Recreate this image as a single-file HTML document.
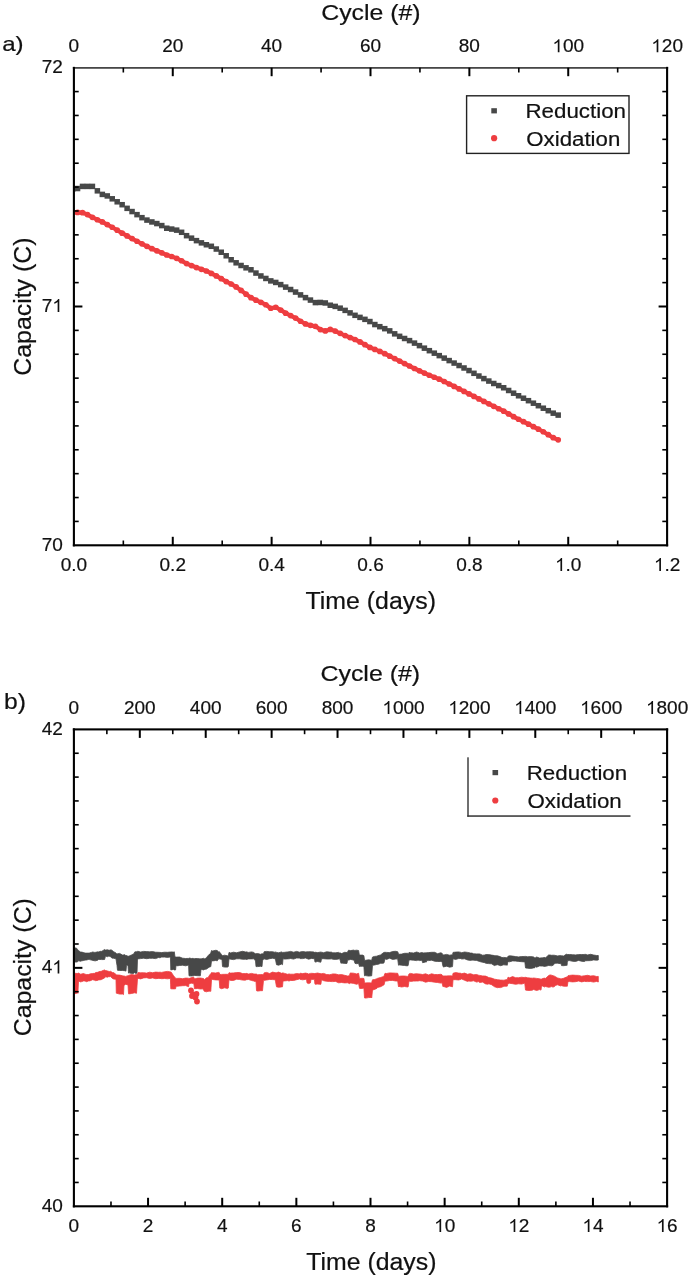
<!DOCTYPE html>
<html><head><meta charset="utf-8"><style>
html,body{margin:0;padding:0;background:#fff;}
svg{display:block;filter:blur(0.45px);}
text{font-family:"Liberation Sans", sans-serif;}
</style></head><body>
<svg width="691" height="1280" viewBox="0 0 691 1280" font-family="Liberation Sans">
<rect width="691" height="1280" fill="#fff"/>
<defs><clipPath id="ca"><rect x="74.40" y="67.70" width="592.20" height="477.60"/></clipPath></defs>
<g clip-path="url(#ca)">
<g fill="#474848">
<rect x="69.85" y="186.35" width="5.5" height="5.5"/>
<rect x="74.80" y="185.78" width="5.5" height="5.5"/>
<rect x="79.76" y="183.65" width="5.5" height="5.5"/>
<rect x="84.71" y="183.65" width="5.5" height="5.5"/>
<rect x="89.67" y="183.65" width="5.5" height="5.5"/>
<rect x="94.62" y="188.08" width="5.5" height="5.5"/>
<rect x="99.58" y="191.66" width="5.5" height="5.5"/>
<rect x="104.53" y="193.19" width="5.5" height="5.5"/>
<rect x="109.49" y="196.06" width="5.5" height="5.5"/>
<rect x="114.44" y="199.05" width="5.5" height="5.5"/>
<rect x="119.40" y="201.96" width="5.5" height="5.5"/>
<rect x="124.35" y="205.59" width="5.5" height="5.5"/>
<rect x="129.31" y="208.81" width="5.5" height="5.5"/>
<rect x="134.26" y="211.89" width="5.5" height="5.5"/>
<rect x="139.22" y="214.92" width="5.5" height="5.5"/>
<rect x="144.18" y="217.34" width="5.5" height="5.5"/>
<rect x="149.13" y="219.20" width="5.5" height="5.5"/>
<rect x="154.08" y="220.82" width="5.5" height="5.5"/>
<rect x="159.04" y="222.84" width="5.5" height="5.5"/>
<rect x="164.00" y="225.49" width="5.5" height="5.5"/>
<rect x="168.95" y="226.33" width="5.5" height="5.5"/>
<rect x="173.91" y="227.39" width="5.5" height="5.5"/>
<rect x="178.86" y="229.54" width="5.5" height="5.5"/>
<rect x="183.81" y="232.93" width="5.5" height="5.5"/>
<rect x="188.77" y="235.41" width="5.5" height="5.5"/>
<rect x="193.72" y="237.89" width="5.5" height="5.5"/>
<rect x="198.68" y="240.11" width="5.5" height="5.5"/>
<rect x="203.63" y="242.00" width="5.5" height="5.5"/>
<rect x="208.59" y="243.54" width="5.5" height="5.5"/>
<rect x="213.54" y="246.29" width="5.5" height="5.5"/>
<rect x="218.50" y="249.48" width="5.5" height="5.5"/>
<rect x="223.45" y="253.03" width="5.5" height="5.5"/>
<rect x="228.41" y="257.00" width="5.5" height="5.5"/>
<rect x="233.37" y="260.06" width="5.5" height="5.5"/>
<rect x="238.32" y="262.74" width="5.5" height="5.5"/>
<rect x="243.28" y="265.08" width="5.5" height="5.5"/>
<rect x="248.23" y="267.04" width="5.5" height="5.5"/>
<rect x="253.19" y="270.32" width="5.5" height="5.5"/>
<rect x="258.14" y="273.22" width="5.5" height="5.5"/>
<rect x="263.10" y="275.71" width="5.5" height="5.5"/>
<rect x="268.05" y="278.15" width="5.5" height="5.5"/>
<rect x="273.00" y="279.69" width="5.5" height="5.5"/>
<rect x="277.96" y="281.85" width="5.5" height="5.5"/>
<rect x="282.91" y="284.36" width="5.5" height="5.5"/>
<rect x="287.87" y="286.76" width="5.5" height="5.5"/>
<rect x="292.82" y="289.32" width="5.5" height="5.5"/>
<rect x="297.78" y="292.14" width="5.5" height="5.5"/>
<rect x="302.74" y="294.88" width="5.5" height="5.5"/>
<rect x="307.69" y="297.32" width="5.5" height="5.5"/>
<rect x="312.64" y="299.84" width="5.5" height="5.5"/>
<rect x="317.60" y="299.70" width="5.5" height="5.5"/>
<rect x="322.56" y="300.22" width="5.5" height="5.5"/>
<rect x="327.51" y="302.48" width="5.5" height="5.5"/>
<rect x="332.47" y="303.65" width="5.5" height="5.5"/>
<rect x="337.42" y="305.42" width="5.5" height="5.5"/>
<rect x="342.38" y="307.63" width="5.5" height="5.5"/>
<rect x="347.33" y="310.14" width="5.5" height="5.5"/>
<rect x="352.28" y="312.57" width="5.5" height="5.5"/>
<rect x="357.24" y="314.62" width="5.5" height="5.5"/>
<rect x="362.20" y="316.60" width="5.5" height="5.5"/>
<rect x="367.15" y="318.80" width="5.5" height="5.5"/>
<rect x="372.11" y="321.80" width="5.5" height="5.5"/>
<rect x="377.06" y="323.93" width="5.5" height="5.5"/>
<rect x="382.01" y="325.92" width="5.5" height="5.5"/>
<rect x="386.97" y="328.12" width="5.5" height="5.5"/>
<rect x="391.92" y="331.09" width="5.5" height="5.5"/>
<rect x="396.88" y="333.58" width="5.5" height="5.5"/>
<rect x="401.84" y="335.74" width="5.5" height="5.5"/>
<rect x="406.79" y="337.87" width="5.5" height="5.5"/>
<rect x="411.75" y="340.35" width="5.5" height="5.5"/>
<rect x="416.70" y="342.88" width="5.5" height="5.5"/>
<rect x="421.65" y="345.41" width="5.5" height="5.5"/>
<rect x="426.61" y="347.93" width="5.5" height="5.5"/>
<rect x="431.57" y="350.41" width="5.5" height="5.5"/>
<rect x="436.52" y="352.88" width="5.5" height="5.5"/>
<rect x="441.48" y="355.36" width="5.5" height="5.5"/>
<rect x="446.43" y="357.84" width="5.5" height="5.5"/>
<rect x="451.38" y="360.32" width="5.5" height="5.5"/>
<rect x="456.34" y="362.78" width="5.5" height="5.5"/>
<rect x="461.29" y="365.23" width="5.5" height="5.5"/>
<rect x="466.25" y="367.80" width="5.5" height="5.5"/>
<rect x="471.21" y="370.55" width="5.5" height="5.5"/>
<rect x="476.16" y="373.29" width="5.5" height="5.5"/>
<rect x="481.12" y="375.83" width="5.5" height="5.5"/>
<rect x="486.07" y="378.31" width="5.5" height="5.5"/>
<rect x="491.02" y="380.74" width="5.5" height="5.5"/>
<rect x="495.98" y="382.84" width="5.5" height="5.5"/>
<rect x="500.93" y="385.02" width="5.5" height="5.5"/>
<rect x="505.89" y="387.73" width="5.5" height="5.5"/>
<rect x="510.85" y="390.44" width="5.5" height="5.5"/>
<rect x="515.80" y="393.02" width="5.5" height="5.5"/>
<rect x="520.75" y="395.47" width="5.5" height="5.5"/>
<rect x="525.71" y="397.93" width="5.5" height="5.5"/>
<rect x="530.66" y="400.44" width="5.5" height="5.5"/>
<rect x="535.62" y="402.96" width="5.5" height="5.5"/>
<rect x="540.58" y="405.46" width="5.5" height="5.5"/>
<rect x="545.53" y="407.94" width="5.5" height="5.5"/>
<rect x="550.49" y="410.42" width="5.5" height="5.5"/>
<rect x="555.44" y="412.35" width="5.5" height="5.5"/>
</g>
<defs><filter id="rb" x="-5%" y="-5%" width="110%" height="110%"><feGaussianBlur stdDeviation="0.45"/></filter></defs>
<g filter="url(#rb)">
<polyline fill="none" stroke="#ee3d40" stroke-width="4.2" stroke-linejoin="round" stroke-linecap="round" points="72.60,212.50 77.55,212.40 82.51,212.65 87.46,214.56 92.42,217.34 97.38,219.73 102.33,221.94 107.28,224.53 112.24,227.23 117.19,230.18 122.15,233.15 127.10,235.94 132.06,238.59 137.01,241.23 141.97,243.86 146.93,246.34 151.88,248.69 156.83,250.79 161.79,252.80 166.75,254.98 171.70,256.50 176.66,258.36 181.61,260.77 186.56,263.62 191.52,265.57 196.47,267.57 201.43,269.34 206.38,270.99 211.34,273.47 216.29,275.95 221.25,278.69 226.20,281.54 231.16,283.98 236.12,286.91 241.07,290.38 246.03,294.13 250.98,297.63 255.94,300.18 260.89,302.36 265.85,304.75 270.80,308.26 275.75,307.23 280.71,310.08 285.66,313.13 290.62,315.61 295.57,318.09 300.53,321.26 305.49,323.95 310.44,325.37 315.39,326.36 320.35,329.60 325.31,330.93 330.26,329.39 335.22,331.07 340.17,333.31 345.12,335.55 350.08,337.53 355.03,339.51 359.99,341.89 364.95,344.63 369.90,347.45 374.86,349.41 379.81,351.38 384.76,353.65 389.72,356.15 394.67,358.59 399.63,361.10 404.59,363.57 409.54,366.02 414.50,368.50 419.45,370.78 424.40,373.05 429.36,375.24 434.32,377.23 439.27,379.21 444.23,381.51 449.18,383.99 454.13,386.47 459.09,388.96 464.04,391.46 469.00,393.95 473.96,396.43 478.91,398.90 483.87,401.38 488.82,403.86 493.77,406.33 498.73,408.73 503.68,411.18 508.64,413.92 513.60,416.67 518.55,419.27 523.50,421.72 528.46,424.18 533.41,426.66 538.37,429.13 543.33,431.74 548.28,434.71 553.24,437.68 558.19,439.85"/>
<g fill="#ee3d40">
<circle cx="72.60" cy="212.50" r="2.85"/>
<circle cx="77.55" cy="212.40" r="2.85"/>
<circle cx="82.51" cy="212.65" r="2.85"/>
<circle cx="87.46" cy="214.56" r="2.85"/>
<circle cx="92.42" cy="217.34" r="2.85"/>
<circle cx="97.38" cy="219.73" r="2.85"/>
<circle cx="102.33" cy="221.94" r="2.85"/>
<circle cx="107.28" cy="224.53" r="2.85"/>
<circle cx="112.24" cy="227.23" r="2.85"/>
<circle cx="117.19" cy="230.18" r="2.85"/>
<circle cx="122.15" cy="233.15" r="2.85"/>
<circle cx="127.10" cy="235.94" r="2.85"/>
<circle cx="132.06" cy="238.59" r="2.85"/>
<circle cx="137.01" cy="241.23" r="2.85"/>
<circle cx="141.97" cy="243.86" r="2.85"/>
<circle cx="146.93" cy="246.34" r="2.85"/>
<circle cx="151.88" cy="248.69" r="2.85"/>
<circle cx="156.83" cy="250.79" r="2.85"/>
<circle cx="161.79" cy="252.80" r="2.85"/>
<circle cx="166.75" cy="254.98" r="2.85"/>
<circle cx="171.70" cy="256.50" r="2.85"/>
<circle cx="176.66" cy="258.36" r="2.85"/>
<circle cx="181.61" cy="260.77" r="2.85"/>
<circle cx="186.56" cy="263.62" r="2.85"/>
<circle cx="191.52" cy="265.57" r="2.85"/>
<circle cx="196.47" cy="267.57" r="2.85"/>
<circle cx="201.43" cy="269.34" r="2.85"/>
<circle cx="206.38" cy="270.99" r="2.85"/>
<circle cx="211.34" cy="273.47" r="2.85"/>
<circle cx="216.29" cy="275.95" r="2.85"/>
<circle cx="221.25" cy="278.69" r="2.85"/>
<circle cx="226.20" cy="281.54" r="2.85"/>
<circle cx="231.16" cy="283.98" r="2.85"/>
<circle cx="236.12" cy="286.91" r="2.85"/>
<circle cx="241.07" cy="290.38" r="2.85"/>
<circle cx="246.03" cy="294.13" r="2.85"/>
<circle cx="250.98" cy="297.63" r="2.85"/>
<circle cx="255.94" cy="300.18" r="2.85"/>
<circle cx="260.89" cy="302.36" r="2.85"/>
<circle cx="265.85" cy="304.75" r="2.85"/>
<circle cx="270.80" cy="308.26" r="2.85"/>
<circle cx="275.75" cy="307.23" r="2.85"/>
<circle cx="280.71" cy="310.08" r="2.85"/>
<circle cx="285.66" cy="313.13" r="2.85"/>
<circle cx="290.62" cy="315.61" r="2.85"/>
<circle cx="295.57" cy="318.09" r="2.85"/>
<circle cx="300.53" cy="321.26" r="2.85"/>
<circle cx="305.49" cy="323.95" r="2.85"/>
<circle cx="310.44" cy="325.37" r="2.85"/>
<circle cx="315.39" cy="326.36" r="2.85"/>
<circle cx="320.35" cy="329.60" r="2.85"/>
<circle cx="325.31" cy="330.93" r="2.85"/>
<circle cx="330.26" cy="329.39" r="2.85"/>
<circle cx="335.22" cy="331.07" r="2.85"/>
<circle cx="340.17" cy="333.31" r="2.85"/>
<circle cx="345.12" cy="335.55" r="2.85"/>
<circle cx="350.08" cy="337.53" r="2.85"/>
<circle cx="355.03" cy="339.51" r="2.85"/>
<circle cx="359.99" cy="341.89" r="2.85"/>
<circle cx="364.95" cy="344.63" r="2.85"/>
<circle cx="369.90" cy="347.45" r="2.85"/>
<circle cx="374.86" cy="349.41" r="2.85"/>
<circle cx="379.81" cy="351.38" r="2.85"/>
<circle cx="384.76" cy="353.65" r="2.85"/>
<circle cx="389.72" cy="356.15" r="2.85"/>
<circle cx="394.67" cy="358.59" r="2.85"/>
<circle cx="399.63" cy="361.10" r="2.85"/>
<circle cx="404.59" cy="363.57" r="2.85"/>
<circle cx="409.54" cy="366.02" r="2.85"/>
<circle cx="414.50" cy="368.50" r="2.85"/>
<circle cx="419.45" cy="370.78" r="2.85"/>
<circle cx="424.40" cy="373.05" r="2.85"/>
<circle cx="429.36" cy="375.24" r="2.85"/>
<circle cx="434.32" cy="377.23" r="2.85"/>
<circle cx="439.27" cy="379.21" r="2.85"/>
<circle cx="444.23" cy="381.51" r="2.85"/>
<circle cx="449.18" cy="383.99" r="2.85"/>
<circle cx="454.13" cy="386.47" r="2.85"/>
<circle cx="459.09" cy="388.96" r="2.85"/>
<circle cx="464.04" cy="391.46" r="2.85"/>
<circle cx="469.00" cy="393.95" r="2.85"/>
<circle cx="473.96" cy="396.43" r="2.85"/>
<circle cx="478.91" cy="398.90" r="2.85"/>
<circle cx="483.87" cy="401.38" r="2.85"/>
<circle cx="488.82" cy="403.86" r="2.85"/>
<circle cx="493.77" cy="406.33" r="2.85"/>
<circle cx="498.73" cy="408.73" r="2.85"/>
<circle cx="503.68" cy="411.18" r="2.85"/>
<circle cx="508.64" cy="413.92" r="2.85"/>
<circle cx="513.60" cy="416.67" r="2.85"/>
<circle cx="518.55" cy="419.27" r="2.85"/>
<circle cx="523.50" cy="421.72" r="2.85"/>
<circle cx="528.46" cy="424.18" r="2.85"/>
<circle cx="533.41" cy="426.66" r="2.85"/>
<circle cx="538.37" cy="429.13" r="2.85"/>
<circle cx="543.33" cy="431.74" r="2.85"/>
<circle cx="548.28" cy="434.71" r="2.85"/>
<circle cx="553.24" cy="437.68" r="2.85"/>
<circle cx="558.19" cy="439.85" r="2.85"/>
</g></g></g>
<rect x="72.85" y="67.10" width="595.30" height="1.6" fill="#333"/>
<rect x="72.85" y="544.25" width="595.30" height="2.1" fill="#000"/>
<rect x="72.85" y="66.85" width="2.1" height="479.50" fill="#000"/>
<rect x="666.05" y="66.85" width="2.1" height="479.50" fill="#000"/>
<rect x="122.53" y="540.50" width="1.6" height="4.80" fill="#000"/>
<rect x="171.77" y="536.80" width="2.0" height="8.50" fill="#000"/>
<rect x="221.40" y="540.50" width="1.6" height="4.80" fill="#000"/>
<rect x="270.63" y="536.80" width="2.0" height="8.50" fill="#000"/>
<rect x="320.27" y="540.50" width="1.6" height="4.80" fill="#000"/>
<rect x="369.50" y="536.80" width="2.0" height="8.50" fill="#000"/>
<rect x="419.13" y="540.50" width="1.6" height="4.80" fill="#000"/>
<rect x="468.37" y="536.80" width="2.0" height="8.50" fill="#000"/>
<rect x="518.00" y="540.50" width="1.6" height="4.80" fill="#000"/>
<rect x="567.23" y="536.80" width="2.0" height="8.50" fill="#000"/>
<rect x="616.87" y="540.50" width="1.6" height="4.80" fill="#000"/>
<rect x="122.53" y="67.70" width="1.6" height="4.80" fill="#000"/>
<rect x="171.77" y="67.70" width="2.0" height="8.50" fill="#000"/>
<rect x="221.40" y="67.70" width="1.6" height="4.80" fill="#000"/>
<rect x="270.63" y="67.70" width="2.0" height="8.50" fill="#000"/>
<rect x="320.27" y="67.70" width="1.6" height="4.80" fill="#000"/>
<rect x="369.50" y="67.70" width="2.0" height="8.50" fill="#000"/>
<rect x="419.13" y="67.70" width="1.6" height="4.80" fill="#000"/>
<rect x="468.37" y="67.70" width="2.0" height="8.50" fill="#000"/>
<rect x="518.00" y="67.70" width="1.6" height="4.80" fill="#000"/>
<rect x="567.23" y="67.70" width="2.0" height="8.50" fill="#000"/>
<rect x="616.87" y="67.70" width="1.6" height="4.80" fill="#000"/>
<rect x="73.90" y="90.78" width="4.80" height="1.6" fill="#000"/>
<rect x="662.30" y="90.78" width="4.80" height="1.6" fill="#000"/>
<rect x="73.90" y="114.66" width="4.80" height="1.6" fill="#000"/>
<rect x="662.30" y="114.66" width="4.80" height="1.6" fill="#000"/>
<rect x="73.90" y="138.54" width="4.80" height="1.6" fill="#000"/>
<rect x="662.30" y="138.54" width="4.80" height="1.6" fill="#000"/>
<rect x="73.90" y="162.42" width="4.80" height="1.6" fill="#000"/>
<rect x="662.30" y="162.42" width="4.80" height="1.6" fill="#000"/>
<rect x="73.90" y="186.30" width="4.80" height="1.6" fill="#000"/>
<rect x="662.30" y="186.30" width="4.80" height="1.6" fill="#000"/>
<rect x="73.90" y="210.18" width="4.80" height="1.6" fill="#000"/>
<rect x="662.30" y="210.18" width="4.80" height="1.6" fill="#000"/>
<rect x="73.90" y="234.06" width="4.80" height="1.6" fill="#000"/>
<rect x="662.30" y="234.06" width="4.80" height="1.6" fill="#000"/>
<rect x="73.90" y="257.94" width="4.80" height="1.6" fill="#000"/>
<rect x="662.30" y="257.94" width="4.80" height="1.6" fill="#000"/>
<rect x="73.90" y="281.82" width="4.80" height="1.6" fill="#000"/>
<rect x="662.30" y="281.82" width="4.80" height="1.6" fill="#000"/>
<rect x="73.90" y="305.50" width="8.50" height="2.0" fill="#000"/>
<rect x="658.60" y="305.50" width="8.50" height="2.0" fill="#000"/>
<rect x="73.90" y="329.58" width="4.80" height="1.6" fill="#000"/>
<rect x="662.30" y="329.58" width="4.80" height="1.6" fill="#000"/>
<rect x="73.90" y="353.46" width="4.80" height="1.6" fill="#000"/>
<rect x="662.30" y="353.46" width="4.80" height="1.6" fill="#000"/>
<rect x="73.90" y="377.34" width="4.80" height="1.6" fill="#000"/>
<rect x="662.30" y="377.34" width="4.80" height="1.6" fill="#000"/>
<rect x="73.90" y="401.22" width="4.80" height="1.6" fill="#000"/>
<rect x="662.30" y="401.22" width="4.80" height="1.6" fill="#000"/>
<rect x="73.90" y="425.10" width="4.80" height="1.6" fill="#000"/>
<rect x="662.30" y="425.10" width="4.80" height="1.6" fill="#000"/>
<rect x="73.90" y="448.98" width="4.80" height="1.6" fill="#000"/>
<rect x="662.30" y="448.98" width="4.80" height="1.6" fill="#000"/>
<rect x="73.90" y="472.86" width="4.80" height="1.6" fill="#000"/>
<rect x="662.30" y="472.86" width="4.80" height="1.6" fill="#000"/>
<rect x="73.90" y="496.74" width="4.80" height="1.6" fill="#000"/>
<rect x="662.30" y="496.74" width="4.80" height="1.6" fill="#000"/>
<rect x="73.90" y="520.62" width="4.80" height="1.6" fill="#000"/>
<rect x="662.30" y="520.62" width="4.80" height="1.6" fill="#000"/>
<g fill="#111" stroke="#111" stroke-width="0.2">
<text x="73.90" y="52.30" font-size="19" text-anchor="middle">0</text>
<text x="172.77" y="52.30" font-size="19" text-anchor="middle">20</text>
<text x="271.63" y="52.30" font-size="19" text-anchor="middle">40</text>
<text x="370.50" y="52.30" font-size="19" text-anchor="middle">60</text>
<text x="469.37" y="52.30" font-size="19" text-anchor="middle">80</text>
<path transform="translate(552.38,52.30) scale(0.00928,-0.00928)" d="M763,0 L583,0 L583,1097 Q518,1038 412,979 Q306,920 222,890 L222,1056 Q373,1124 486,1221 Q599,1318 646,1409 L763,1409 Z"/>
<text x="562.95" y="52.30" font-size="19">00</text>
<path transform="translate(651.25,52.30) scale(0.00928,-0.00928)" d="M763,0 L583,0 L583,1097 Q518,1038 412,979 Q306,920 222,890 L222,1056 Q373,1124 486,1221 Q599,1318 646,1409 L763,1409 Z"/>
<text x="661.82" y="52.30" font-size="19">20</text>
<text x="73.90" y="571.00" font-size="19" text-anchor="middle">0.0</text>
<text x="172.77" y="571.00" font-size="19" text-anchor="middle">0.2</text>
<text x="271.63" y="571.00" font-size="19" text-anchor="middle">0.4</text>
<text x="370.50" y="571.00" font-size="19" text-anchor="middle">0.6</text>
<text x="469.37" y="571.00" font-size="19" text-anchor="middle">0.8</text>
<path transform="translate(555.03,571.00) scale(0.00928,-0.00928)" d="M763,0 L583,0 L583,1097 Q518,1038 412,979 Q306,920 222,890 L222,1056 Q373,1124 486,1221 Q599,1318 646,1409 L763,1409 Z"/>
<text x="565.59" y="571.00" font-size="19">.0</text>
<path transform="translate(653.89,571.00) scale(0.00928,-0.00928)" d="M763,0 L583,0 L583,1097 Q518,1038 412,979 Q306,920 222,890 L222,1056 Q373,1124 486,1221 Q599,1318 646,1409 L763,1409 Z"/>
<text x="664.46" y="571.00" font-size="19">.2</text>
<text x="62.80" y="73.30" font-size="19" text-anchor="end">72</text>
<text x="41.67" y="312.10" font-size="19">7</text>
<path transform="translate(52.23,312.10) scale(0.00928,-0.00928)" d="M763,0 L583,0 L583,1097 Q518,1038 412,979 Q306,920 222,890 L222,1056 Q373,1124 486,1221 Q599,1318 646,1409 L763,1409 Z"/>
<text x="62.80" y="550.90" font-size="19" text-anchor="end">70</text>
<text x="321.25" y="19.70" font-size="21.5" textLength="99.33" lengthAdjust="spacingAndGlyphs">Cycle (#)</text>
<text x="305.42" y="608.60" font-size="23" textLength="130.58" lengthAdjust="spacingAndGlyphs">Time (days)</text>
<text x="2.15" y="51.20" font-size="21" textLength="21.44" lengthAdjust="spacingAndGlyphs">a)</text>
<text x="525.47" y="117.50" font-size="20" textLength="100.52" lengthAdjust="spacingAndGlyphs">Reduction</text>
<text x="526.29" y="146.00" font-size="20" textLength="93.98" lengthAdjust="spacingAndGlyphs">Oxidation</text>
<text transform="translate(30.80,375.66) rotate(-90)" x="0" y="0" font-size="23.5" textLength="138.14" lengthAdjust="spacingAndGlyphs">Capacity (C)</text>
</g>
<rect x="466.6" y="95.8" width="162.4" height="57.6" fill="none" stroke="#222" stroke-width="1.4"/>
<rect x="491.3" y="108.2" width="5.6" height="5.2" fill="#474848"/>
<circle cx="494.1" cy="138.2" r="3.1" fill="#ee3d40"/>
<path d="M74.6,947.8 L76.6,948.2 L77.6,949.5 L78.5,950.5 L80.6,952.1 L81.8,952.1 L83.6,952.6 L85.0,953.1 L86.6,953.1 L88.3,953.1 L89.6,952.9 L91.5,952.4 L92.6,952.0 L94.8,952.4 L95.6,952.3 L98.0,951.8 L98.6,951.9 L101.3,951.1 L101.6,951.4 L104.6,949.5 L105.5,950.1 L107.6,949.8 L108.5,950.1 L110.0,950.3 L110.6,949.7 L112.4,950.5 L113.6,951.8 L115.0,952.4 L116.0,953.1 L116.6,953.7 L117.0,953.7 L117.5,953.8 L119.6,953.4 L122.6,955.1 L125.0,954.7 L125.6,955.7 L126.0,955.2 L126.5,955.5 L128.0,956.3 L128.5,956.1 L128.6,956.3 L131.6,954.9 L134.0,953.7 L134.6,952.1 L135.0,951.8 L137.0,951.8 L137.5,951.9 L137.6,951.2 L140.6,952.0 L143.6,951.4 L146.6,951.6 L149.6,951.8 L152.6,951.6 L155.6,952.2 L158.6,952.3 L160.0,952.4 L161.6,952.6 L164.6,952.2 L167.6,952.3 L170.4,952.0 L170.6,952.0 L170.8,951.9 L173.6,952.1 L174.3,951.8 L175.0,957.0 L175.6,957.0 L176.0,957.1 L176.6,957.1 L179.6,957.0 L182.6,958.2 L185.6,958.5 L188.6,958.4 L189.0,958.0 L191.6,958.5 L193.2,958.3 L194.0,958.9 L194.6,958.6 L197.6,958.5 L200.3,958.9 L200.6,958.6 L201.0,958.9 L203.6,958.3 L204.9,958.9 L206.6,957.5 L208.0,955.7 L209.6,954.1 L210.8,953.1 L211.5,950.5 L212.6,951.0 L215.6,950.3 L217.3,950.5 L218.6,952.1 L219.0,951.7 L220.0,952.4 L221.6,954.9 L222.0,954.9 L222.5,955.7 L224.6,955.2 L227.6,955.8 L228.3,956.3 L229.0,952.4 L230.6,952.9 L233.6,952.2 L236.6,952.8 L239.6,951.9 L242.6,951.3 L245.6,952.0 L246.0,951.8 L248.6,952.4 L251.6,951.9 L253.8,952.4 L254.5,953.7 L254.6,953.1 L255.5,953.7 L256.0,953.7 L257.6,953.5 L260.6,954.3 L262.0,953.7 L262.5,953.7 L263.5,953.7 L263.6,953.7 L264.0,951.8 L266.6,951.4 L269.6,951.7 L272.6,951.7 L275.2,952.4 L275.6,951.8 L276.5,952.4 L278.6,952.8 L281.6,951.9 L282.5,952.4 L283.0,952.4 L284.6,952.3 L287.6,951.9 L289.0,951.8 L290.6,951.4 L293.6,952.2 L296.6,951.4 L299.6,952.2 L300.0,952.0 L302.6,951.5 L305.6,951.9 L308.6,951.7 L311.6,951.8 L314.3,952.1 L314.6,952.8 L315.0,952.2 L317.6,952.6 L320.0,952.2 L320.6,951.9 L320.9,952.2 L321.5,952.2 L323.6,952.7 L326.6,951.8 L329.6,952.1 L332.0,952.2 L332.6,952.8 L335.6,952.8 L338.6,952.4 L339.8,953.1 L341.0,953.0 L341.6,953.6 L344.6,952.3 L347.0,952.5 L347.6,952.1 L348.5,950.2 L350.6,950.6 L353.6,950.1 L354.0,950.4 L355.0,950.4 L356.6,950.2 L358.6,950.5 L359.5,955.7 L359.6,955.1 L362.6,955.1 L363.9,955.7 L364.5,960.2 L365.6,960.3 L368.6,959.8 L371.6,960.3 L371.7,960.2 L372.5,957.0 L374.6,956.4 L377.0,956.2 L377.6,955.8 L380.6,954.9 L383.6,952.6 L384.0,952.4 L385.0,952.3 L386.6,952.4 L389.6,952.6 L392.6,951.5 L395.6,951.3 L397.7,951.7 L398.5,953.7 L398.6,954.3 L401.6,954.1 L404.6,953.3 L407.6,953.3 L408.2,953.7 L409.0,952.4 L410.6,952.7 L413.6,953.0 L416.6,952.0 L418.0,952.4 L419.6,953.1 L421.9,952.5 L422.5,952.6 L422.6,953.1 L425.6,952.8 L426.4,952.7 L427.0,952.7 L428.6,952.6 L431.6,952.3 L434.6,952.3 L437.6,953.7 L440.6,952.8 L442.0,953.2 L443.0,954.7 L443.6,955.0 L446.6,954.4 L449.6,955.2 L452.5,954.7 L452.6,954.4 L453.0,952.4 L455.6,952.1 L458.6,951.9 L461.0,952.4 L461.6,952.7 L464.6,952.0 L467.6,952.4 L470.6,953.1 L472.0,953.1 L473.6,953.8 L476.6,953.9 L479.6,953.9 L482.6,955.2 L485.0,955.0 L485.6,954.6 L488.6,954.6 L491.6,955.1 L494.6,955.6 L494.8,955.7 L497.6,955.8 L500.6,956.8 L502.0,957.6 L503.6,957.4 L506.6,957.7 L507.2,957.6 L508.0,956.3 L509.6,955.8 L512.6,956.1 L515.6,956.6 L518.6,956.9 L521.6,956.5 L524.6,956.6 L524.8,956.3 L525.5,956.4 L527.6,956.8 L530.6,956.6 L533.6,956.9 L534.6,957.7 L535.5,957.7 L536.6,957.0 L539.6,958.1 L542.6,957.8 L545.0,957.4 L545.6,957.8 L548.6,955.0 L550.0,955.0 L551.6,955.3 L553.0,955.2 L554.6,955.3 L555.0,955.4 L557.6,955.9 L560.6,955.5 L561.0,955.8 L561.5,955.7 L563.6,956.0 L566.6,954.0 L567.0,954.6 L567.3,954.5 L567.5,954.5 L569.6,954.5 L572.6,954.7 L575.6,954.9 L578.6,954.6 L581.6,954.5 L584.6,954.6 L584.8,954.2 L587.6,954.9 L590.6,954.3 L593.6,955.0 L596.6,955.5 L598.3,955.5 L598.3,960.0 L596.6,960.2 L593.6,959.9 L590.6,960.6 L587.6,960.7 L584.8,960.8 L584.6,961.5 L581.6,961.3 L578.6,960.4 L575.6,961.4 L572.6,961.3 L569.6,960.6 L567.5,960.8 L567.3,962.7 L567.0,965.6 L566.6,965.3 L563.6,965.7 L561.5,965.6 L561.0,963.2 L560.6,963.7 L557.6,963.2 L555.0,963.2 L554.6,963.8 L553.0,965.3 L551.6,965.8 L550.0,965.6 L548.6,965.5 L545.6,966.3 L545.0,966.4 L542.6,966.1 L539.6,965.9 L536.6,967.2 L535.5,966.6 L534.6,967.9 L533.6,967.9 L530.6,968.5 L527.6,968.2 L525.5,967.9 L524.8,961.4 L524.6,961.9 L521.6,961.7 L518.6,961.4 L515.6,961.1 L512.6,960.9 L509.6,961.8 L508.0,961.4 L507.2,965.3 L506.6,965.1 L503.6,964.8 L502.0,965.3 L500.6,965.7 L497.6,964.7 L494.8,965.3 L494.6,965.7 L491.6,963.8 L488.6,963.6 L485.6,963.2 L485.0,962.7 L482.6,962.3 L479.6,961.5 L476.6,960.4 L473.6,960.2 L472.0,960.1 L470.6,960.4 L467.6,960.0 L464.6,958.8 L461.6,959.0 L461.0,958.5 L458.6,958.6 L455.6,959.4 L453.0,958.8 L452.6,965.7 L452.5,966.6 L449.6,967.2 L446.6,966.2 L443.6,966.9 L443.0,966.6 L442.0,961.4 L440.6,961.5 L437.6,961.5 L434.6,961.2 L431.6,960.2 L428.6,960.6 L427.0,960.3 L426.4,962.1 L425.6,962.0 L422.6,962.7 L422.5,962.1 L421.9,960.3 L419.6,960.6 L418.0,960.1 L416.6,960.6 L413.6,960.2 L410.6,959.9 L409.0,960.1 L408.2,965.3 L407.6,965.9 L404.6,965.5 L401.6,965.2 L398.6,964.8 L398.5,965.3 L397.7,958.8 L395.6,959.1 L392.6,959.4 L389.6,958.2 L386.6,959.4 L385.0,958.8 L384.0,962.7 L383.6,963.2 L380.6,963.3 L377.6,964.5 L377.0,964.3 L374.6,965.0 L372.5,965.3 L371.7,975.8 L371.6,975.8 L368.6,976.1 L365.6,975.6 L364.5,975.8 L363.9,966.6 L362.6,966.3 L359.6,966.2 L359.5,966.6 L358.6,963.4 L356.6,963.7 L355.0,963.4 L354.0,960.1 L353.6,960.1 L350.6,959.4 L348.5,960.1 L347.6,959.7 L347.0,963.4 L344.6,963.4 L341.6,963.0 L341.0,963.4 L339.8,958.8 L338.6,959.1 L335.6,959.4 L332.6,959.2 L332.0,958.8 L329.6,959.0 L326.6,959.0 L323.6,958.7 L321.5,958.8 L320.9,962.1 L320.6,962.3 L320.0,962.1 L317.6,961.5 L315.0,962.1 L314.6,959.7 L314.3,958.8 L311.6,958.4 L308.6,959.2 L305.6,958.0 L302.6,958.6 L300.0,958.6 L299.6,958.1 L296.6,958.0 L293.6,959.1 L290.6,958.5 L289.0,958.8 L287.6,958.9 L284.6,959.1 L283.0,958.8 L282.5,964.7 L281.6,964.1 L278.6,965.2 L276.5,964.7 L275.6,960.0 L275.2,958.8 L272.6,958.2 L269.6,958.7 L266.6,959.5 L264.0,958.8 L263.6,959.3 L263.5,958.8 L262.5,960.8 L262.0,966.6 L260.6,966.3 L257.6,966.6 L256.0,966.6 L255.5,960.8 L254.6,959.9 L254.5,959.6 L253.8,958.8 L251.6,958.9 L248.6,958.9 L246.0,959.5 L245.6,959.2 L242.6,959.3 L239.6,958.8 L236.6,958.8 L233.6,959.6 L230.6,959.2 L229.0,958.8 L228.3,966.6 L227.6,967.1 L224.6,967.1 L222.5,966.6 L222.0,959.4 L221.6,959.4 L220.0,959.0 L219.0,958.8 L218.6,958.8 L217.3,960.8 L215.6,960.5 L212.6,960.9 L211.5,960.8 L210.8,966.6 L209.6,967.0 L208.0,967.9 L206.6,969.1 L204.9,969.3 L203.6,969.9 L201.0,969.3 L200.6,973.4 L200.3,975.8 L197.6,975.7 L194.6,975.4 L194.0,975.8 L193.2,975.8 L191.6,976.0 L189.0,975.8 L188.6,965.1 L185.6,965.8 L182.6,965.2 L179.6,965.5 L176.6,965.9 L176.0,965.3 L175.6,969.9 L175.0,969.9 L174.3,969.9 L173.6,969.4 L170.8,969.9 L170.6,963.0 L170.4,956.9 L167.6,957.4 L164.6,957.1 L161.6,957.1 L160.0,957.8 L158.6,957.5 L155.6,958.6 L152.6,958.3 L149.6,958.3 L146.6,958.7 L143.6,958.2 L140.6,958.6 L137.6,958.9 L137.5,958.8 L137.0,973.2 L135.0,973.2 L134.6,972.5 L134.0,973.2 L131.6,973.6 L128.6,972.6 L128.5,973.2 L128.0,965.3 L126.5,965.3 L126.0,970.8 L125.6,971.3 L125.0,970.7 L122.6,970.5 L119.6,970.5 L117.5,970.3 L117.0,965.3 L116.6,963.0 L116.0,958.8 L115.0,958.6 L113.6,958.2 L112.4,958.2 L110.6,957.0 L110.0,956.2 L108.5,956.2 L107.6,956.7 L105.5,956.1 L104.6,959.5 L101.6,959.6 L101.3,959.5 L98.6,959.4 L98.0,960.1 L95.6,960.8 L94.8,960.8 L92.6,960.4 L91.5,960.1 L89.6,959.6 L88.3,959.5 L86.6,960.0 L85.0,960.1 L83.6,960.5 L81.8,960.8 L80.6,961.3 L78.5,960.8 L77.6,961.8 L76.6,962.1 L74.6,962.0 Z" fill="#474848" stroke="#474848" stroke-width="0.8" stroke-linejoin="round"/>
<path d="M74.6,973.2 L77.6,973.6 L77.9,973.0 L78.5,973.1 L80.6,974.2 L81.8,973.9 L83.6,973.5 L85.0,974.2 L86.6,974.5 L88.3,974.6 L89.6,974.1 L91.5,973.6 L92.6,973.5 L94.8,973.3 L95.6,972.5 L98.0,972.3 L98.6,971.7 L101.3,971.3 L101.6,971.1 L104.6,969.9 L105.5,970.5 L107.6,971.0 L108.5,971.3 L110.0,971.8 L110.6,971.3 L112.4,972.6 L113.6,972.6 L116.0,974.4 L116.3,974.6 L116.6,974.9 L119.6,975.1 L122.6,975.8 L123.5,975.9 L124.0,976.0 L125.0,976.2 L125.6,976.4 L128.0,975.7 L128.5,975.6 L128.6,975.4 L131.6,974.5 L134.6,975.1 L136.5,974.4 L137.5,974.0 L137.6,974.0 L138.0,972.6 L140.6,972.8 L143.6,972.7 L146.6,973.1 L149.6,972.2 L152.6,972.7 L155.6,972.1 L158.6,972.3 L160.0,972.2 L161.6,972.4 L164.6,971.8 L167.6,971.4 L170.4,971.9 L170.6,971.9 L170.8,971.9 L171.0,971.9 L173.6,975.8 L175.6,978.2 L176.0,978.2 L176.6,978.4 L179.6,978.3 L182.6,978.7 L185.6,978.1 L188.6,978.2 L189.0,978.6 L191.6,977.6 L193.8,977.2 L194.0,978.5 L194.5,978.5 L194.6,978.9 L197.6,978.1 L200.6,978.0 L203.0,978.5 L203.6,978.5 L204.3,979.7 L206.6,977.8 L208.0,977.7 L209.6,975.1 L210.8,973.7 L211.5,972.6 L212.6,972.7 L215.6,973.0 L218.6,972.4 L219.2,972.6 L219.8,974.1 L220.0,974.6 L221.6,974.4 L224.6,974.3 L227.6,974.3 L228.3,974.6 L229.0,972.7 L230.6,973.1 L233.6,972.9 L236.6,972.6 L239.6,972.5 L242.6,973.6 L245.6,973.6 L246.0,973.3 L248.6,974.0 L251.6,973.4 L253.8,973.9 L254.6,974.0 L256.0,974.1 L256.5,974.1 L257.6,974.8 L260.6,974.6 L262.5,974.6 L263.5,974.7 L263.6,975.0 L264.0,972.9 L266.6,972.4 L269.6,973.5 L272.6,972.1 L275.2,972.7 L275.6,972.6 L276.5,972.7 L278.6,972.1 L281.6,973.3 L282.5,972.9 L283.0,972.9 L284.6,973.4 L287.6,974.3 L289.0,973.9 L290.6,974.2 L293.6,974.2 L296.6,973.5 L299.6,973.9 L300.0,973.2 L302.6,973.6 L305.6,973.1 L306.5,973.3 L307.0,973.3 L308.6,974.0 L310.4,973.4 L311.0,973.4 L311.6,973.3 L314.3,973.5 L314.6,973.1 L315.0,973.5 L317.6,973.0 L320.0,973.6 L320.6,973.6 L320.9,973.6 L321.5,973.7 L323.6,973.4 L326.6,974.5 L329.6,974.7 L332.0,974.2 L332.6,973.9 L335.6,974.0 L338.6,974.8 L341.6,974.6 L344.6,975.3 L347.6,976.0 L349.5,975.7 L350.0,973.3 L350.6,973.0 L353.6,973.2 L356.6,973.9 L358.6,973.3 L359.5,978.5 L359.6,978.4 L362.6,978.3 L363.9,978.5 L364.5,982.4 L365.6,982.9 L368.6,982.8 L371.6,983.0 L371.7,982.4 L372.5,979.8 L374.6,979.5 L377.0,978.7 L377.6,978.3 L380.6,977.5 L383.6,976.5 L384.0,975.9 L385.0,973.3 L386.6,973.5 L389.6,972.9 L392.6,973.0 L395.6,973.2 L397.7,973.3 L398.5,975.9 L398.6,976.3 L401.6,976.0 L404.6,976.0 L407.6,976.4 L408.2,975.9 L409.0,973.9 L410.6,973.4 L413.6,974.1 L416.6,973.7 L418.0,973.9 L419.6,974.0 L422.6,974.5 L425.6,973.8 L428.6,974.9 L431.6,973.8 L434.6,974.5 L437.6,974.6 L440.6,974.3 L442.0,974.7 L443.0,975.9 L443.6,976.0 L446.6,975.9 L449.6,975.8 L452.5,975.9 L452.6,975.7 L453.0,973.3 L455.6,972.6 L458.6,973.1 L461.0,973.3 L461.6,973.7 L464.6,973.1 L467.6,974.3 L468.8,973.9 L470.6,973.7 L473.6,974.8 L476.6,974.5 L478.5,975.2 L479.6,975.4 L482.6,975.9 L485.6,976.1 L488.3,977.2 L488.6,977.6 L491.6,978.1 L494.6,979.2 L497.6,979.7 L498.0,979.8 L500.6,980.1 L503.6,980.2 L504.0,980.2 L506.6,979.6 L507.2,979.8 L508.0,977.2 L509.6,977.8 L512.6,976.6 L515.6,977.7 L518.6,977.7 L521.6,977.2 L524.6,977.6 L524.8,977.2 L525.5,977.3 L527.6,977.8 L530.6,978.1 L532.6,978.2 L533.6,978.0 L536.6,978.4 L539.6,978.8 L541.0,979.2 L541.5,979.1 L542.6,978.5 L545.0,978.1 L545.6,978.4 L548.6,975.6 L550.0,974.9 L551.6,975.2 L553.0,975.7 L554.6,976.2 L555.0,976.5 L557.6,978.0 L560.6,978.7 L561.0,978.9 L563.6,978.3 L566.6,977.0 L567.3,977.2 L568.0,975.7 L569.6,975.4 L572.6,975.1 L575.6,975.3 L578.6,975.4 L581.6,976.2 L584.6,975.7 L584.8,975.7 L587.6,975.3 L590.6,976.0 L593.6,975.7 L596.6,976.5 L598.3,976.4 L598.3,982.0 L596.6,981.4 L593.6,982.1 L590.6,981.5 L587.6,981.6 L584.8,981.5 L584.6,981.3 L581.6,981.9 L578.6,981.0 L575.6,981.7 L572.6,981.9 L569.6,981.6 L568.0,981.5 L567.3,986.3 L566.6,986.3 L563.6,986.2 L561.0,985.5 L560.6,985.9 L557.6,984.8 L555.0,985.5 L554.6,986.5 L553.0,987.1 L551.6,986.6 L550.0,987.1 L548.6,987.3 L545.6,986.5 L545.0,987.1 L542.6,986.1 L541.5,986.2 L541.0,990.1 L539.6,989.6 L536.6,990.5 L533.6,989.5 L532.6,990.1 L530.6,990.4 L527.6,990.4 L525.5,990.1 L524.8,983.6 L524.6,983.2 L521.6,984.1 L518.6,983.8 L515.6,984.3 L512.6,983.7 L509.6,983.3 L508.0,983.6 L507.2,986.2 L506.6,986.2 L504.0,986.2 L503.6,986.5 L500.6,987.6 L498.0,987.5 L497.6,987.7 L494.6,986.8 L491.6,984.7 L488.6,983.7 L488.3,984.2 L485.6,983.9 L482.6,982.1 L479.6,982.5 L478.5,981.6 L476.6,982.1 L473.6,980.8 L470.6,981.3 L468.8,981.0 L467.6,981.4 L464.6,980.3 L461.6,978.9 L461.0,979.3 L458.6,980.0 L455.6,979.7 L453.0,979.7 L452.6,985.8 L452.5,986.8 L449.6,986.1 L446.6,987.4 L443.6,986.5 L443.0,986.8 L442.0,982.8 L440.6,983.1 L437.6,982.5 L434.6,982.2 L431.6,981.7 L428.6,981.5 L425.6,982.2 L422.6,981.1 L419.6,980.7 L418.0,981.0 L416.6,981.0 L413.6,981.1 L410.6,981.4 L409.0,981.0 L408.2,986.8 L407.6,987.0 L404.6,986.5 L401.6,987.0 L398.6,986.3 L398.5,986.8 L397.7,981.0 L395.6,981.0 L392.6,980.4 L389.6,980.5 L386.6,981.1 L385.0,981.0 L384.0,984.9 L383.6,985.1 L380.6,986.7 L377.6,987.4 L377.0,988.3 L374.6,989.4 L372.5,990.1 L371.7,997.9 L371.6,997.4 L368.6,997.6 L365.6,998.1 L364.5,997.9 L363.9,988.1 L362.6,988.4 L359.6,988.4 L359.5,988.1 L358.6,983.6 L356.6,984.3 L353.6,983.4 L350.6,982.9 L350.0,983.6 L349.5,983.6 L347.6,982.8 L344.6,982.9 L341.6,982.5 L338.6,982.8 L335.6,981.4 L332.6,981.6 L332.0,981.6 L329.6,981.4 L326.6,981.3 L323.6,980.7 L321.5,979.7 L320.9,984.2 L320.6,984.4 L320.0,984.2 L317.6,984.1 L315.0,984.2 L314.6,981.6 L314.3,979.3 L311.6,979.4 L311.0,979.3 L310.4,982.9 L308.6,983.6 L307.0,982.9 L306.5,979.3 L305.6,979.4 L302.6,979.8 L300.0,979.3 L299.6,978.9 L296.6,979.7 L293.6,980.5 L290.6,980.5 L289.0,981.0 L287.6,980.6 L284.6,980.9 L283.0,981.0 L282.5,986.8 L281.6,986.9 L278.6,987.3 L276.5,986.8 L275.6,981.8 L275.2,979.7 L272.6,979.6 L269.6,979.4 L266.6,980.0 L264.0,980.3 L263.6,979.9 L263.5,980.3 L262.5,990.7 L260.6,990.7 L257.6,991.1 L256.5,990.7 L256.0,981.3 L254.6,981.4 L253.8,981.0 L251.6,980.5 L248.6,979.5 L246.0,979.7 L245.6,980.2 L242.6,980.1 L239.6,979.5 L236.6,979.2 L233.6,980.4 L230.6,980.4 L229.0,979.7 L228.3,988.1 L227.6,988.6 L224.6,987.8 L221.6,988.7 L220.0,988.1 L219.8,988.1 L219.2,979.7 L218.6,980.0 L215.6,979.9 L212.6,979.5 L211.5,979.7 L210.8,991.3 L209.6,991.2 L208.0,991.3 L206.6,991.8 L204.3,991.3 L203.6,990.0 L203.0,988.8 L200.6,989.0 L197.6,988.5 L194.6,988.7 L194.5,988.8 L194.0,985.1 L193.8,983.6 L191.6,983.2 L189.0,983.6 L188.6,986.7 L185.6,985.6 L182.6,985.7 L179.6,986.0 L176.6,986.3 L176.0,986.2 L175.6,988.8 L173.6,988.9 L171.0,988.8 L170.8,988.8 L170.6,984.1 L170.4,978.4 L167.6,978.8 L164.6,978.5 L161.6,978.7 L160.0,978.4 L158.6,978.4 L155.6,978.7 L152.6,977.9 L149.6,978.5 L146.6,977.7 L143.6,977.9 L140.6,978.9 L138.0,978.3 L137.6,979.0 L137.5,978.5 L136.5,993.3 L134.6,992.8 L131.6,993.5 L128.6,993.9 L128.5,993.3 L128.0,984.9 L125.6,984.3 L125.0,984.9 L124.0,984.9 L123.5,994.6 L122.6,994.1 L119.6,994.1 L116.6,993.2 L116.3,993.3 L116.0,979.3 L113.6,979.0 L112.4,978.4 L110.6,976.6 L110.0,976.7 L108.5,976.7 L107.6,977.2 L105.5,976.8 L104.6,977.9 L101.6,979.4 L101.3,979.7 L98.6,979.9 L98.0,980.3 L95.6,980.7 L94.8,980.3 L92.6,979.7 L91.5,980.3 L89.6,980.9 L88.3,981.0 L86.6,981.7 L85.0,981.0 L83.6,980.9 L81.8,981.6 L80.6,981.9 L78.5,981.0 L77.9,993.3 L77.6,993.0 L74.6,993.8 Z" fill="#ee3d40" stroke="#ee3d40" stroke-width="0.8" stroke-linejoin="round"/>
<circle cx="191" cy="990.5" r="2.9" fill="#ee3d40"/>
<circle cx="193" cy="994.5" r="2.9" fill="#ee3d40"/>
<circle cx="195.5" cy="997.5" r="2.9" fill="#ee3d40"/>
<circle cx="197" cy="1001.5" r="2.9" fill="#ee3d40"/>
<circle cx="192" cy="996" r="2.9" fill="#ee3d40"/>
<circle cx="196.5" cy="994" r="2.9" fill="#ee3d40"/>
<rect x="72.85" y="728.35" width="595.30" height="2.1" fill="#000"/>
<rect x="72.85" y="1205.25" width="595.30" height="2.1" fill="#000"/>
<rect x="72.85" y="728.35" width="2.1" height="479.00" fill="#000"/>
<rect x="666.05" y="728.35" width="2.1" height="479.00" fill="#000"/>
<rect x="110.18" y="1201.50" width="1.6" height="4.80" fill="#000"/>
<rect x="147.05" y="1197.80" width="2.0" height="8.50" fill="#000"/>
<rect x="184.32" y="1201.50" width="1.6" height="4.80" fill="#000"/>
<rect x="221.20" y="1197.80" width="2.0" height="8.50" fill="#000"/>
<rect x="258.47" y="1201.50" width="1.6" height="4.80" fill="#000"/>
<rect x="295.35" y="1197.80" width="2.0" height="8.50" fill="#000"/>
<rect x="332.63" y="1201.50" width="1.6" height="4.80" fill="#000"/>
<rect x="369.50" y="1197.80" width="2.0" height="8.50" fill="#000"/>
<rect x="406.78" y="1201.50" width="1.6" height="4.80" fill="#000"/>
<rect x="443.65" y="1197.80" width="2.0" height="8.50" fill="#000"/>
<rect x="480.93" y="1201.50" width="1.6" height="4.80" fill="#000"/>
<rect x="517.80" y="1197.80" width="2.0" height="8.50" fill="#000"/>
<rect x="555.08" y="1201.50" width="1.6" height="4.80" fill="#000"/>
<rect x="591.95" y="1197.80" width="2.0" height="8.50" fill="#000"/>
<rect x="629.23" y="1201.50" width="1.6" height="4.80" fill="#000"/>
<rect x="106.06" y="729.40" width="1.6" height="4.80" fill="#000"/>
<rect x="138.81" y="729.40" width="2.0" height="8.50" fill="#000"/>
<rect x="171.97" y="729.40" width="1.6" height="4.80" fill="#000"/>
<rect x="204.72" y="729.40" width="2.0" height="8.50" fill="#000"/>
<rect x="237.88" y="729.40" width="1.6" height="4.80" fill="#000"/>
<rect x="270.63" y="729.40" width="2.0" height="8.50" fill="#000"/>
<rect x="303.79" y="729.40" width="1.6" height="4.80" fill="#000"/>
<rect x="336.54" y="729.40" width="2.0" height="8.50" fill="#000"/>
<rect x="369.70" y="729.40" width="1.6" height="4.80" fill="#000"/>
<rect x="402.46" y="729.40" width="2.0" height="8.50" fill="#000"/>
<rect x="435.61" y="729.40" width="1.6" height="4.80" fill="#000"/>
<rect x="468.37" y="729.40" width="2.0" height="8.50" fill="#000"/>
<rect x="501.52" y="729.40" width="1.6" height="4.80" fill="#000"/>
<rect x="534.28" y="729.40" width="2.0" height="8.50" fill="#000"/>
<rect x="567.43" y="729.40" width="1.6" height="4.80" fill="#000"/>
<rect x="600.19" y="729.40" width="2.0" height="8.50" fill="#000"/>
<rect x="633.34" y="729.40" width="1.6" height="4.80" fill="#000"/>
<rect x="73.90" y="752.45" width="4.80" height="1.6" fill="#000"/>
<rect x="662.30" y="752.45" width="4.80" height="1.6" fill="#000"/>
<rect x="73.90" y="776.29" width="4.80" height="1.6" fill="#000"/>
<rect x="662.30" y="776.29" width="4.80" height="1.6" fill="#000"/>
<rect x="73.90" y="800.13" width="4.80" height="1.6" fill="#000"/>
<rect x="662.30" y="800.13" width="4.80" height="1.6" fill="#000"/>
<rect x="73.90" y="823.98" width="4.80" height="1.6" fill="#000"/>
<rect x="662.30" y="823.98" width="4.80" height="1.6" fill="#000"/>
<rect x="73.90" y="847.83" width="4.80" height="1.6" fill="#000"/>
<rect x="662.30" y="847.83" width="4.80" height="1.6" fill="#000"/>
<rect x="73.90" y="871.67" width="4.80" height="1.6" fill="#000"/>
<rect x="662.30" y="871.67" width="4.80" height="1.6" fill="#000"/>
<rect x="73.90" y="895.51" width="4.80" height="1.6" fill="#000"/>
<rect x="662.30" y="895.51" width="4.80" height="1.6" fill="#000"/>
<rect x="73.90" y="919.36" width="4.80" height="1.6" fill="#000"/>
<rect x="662.30" y="919.36" width="4.80" height="1.6" fill="#000"/>
<rect x="73.90" y="943.20" width="4.80" height="1.6" fill="#000"/>
<rect x="662.30" y="943.20" width="4.80" height="1.6" fill="#000"/>
<rect x="73.90" y="966.85" width="8.50" height="2.0" fill="#000"/>
<rect x="658.60" y="966.85" width="8.50" height="2.0" fill="#000"/>
<rect x="73.90" y="990.89" width="4.80" height="1.6" fill="#000"/>
<rect x="662.30" y="990.89" width="4.80" height="1.6" fill="#000"/>
<rect x="73.90" y="1014.74" width="4.80" height="1.6" fill="#000"/>
<rect x="662.30" y="1014.74" width="4.80" height="1.6" fill="#000"/>
<rect x="73.90" y="1038.59" width="4.80" height="1.6" fill="#000"/>
<rect x="662.30" y="1038.59" width="4.80" height="1.6" fill="#000"/>
<rect x="73.90" y="1062.43" width="4.80" height="1.6" fill="#000"/>
<rect x="662.30" y="1062.43" width="4.80" height="1.6" fill="#000"/>
<rect x="73.90" y="1086.28" width="4.80" height="1.6" fill="#000"/>
<rect x="662.30" y="1086.28" width="4.80" height="1.6" fill="#000"/>
<rect x="73.90" y="1110.12" width="4.80" height="1.6" fill="#000"/>
<rect x="662.30" y="1110.12" width="4.80" height="1.6" fill="#000"/>
<rect x="73.90" y="1133.96" width="4.80" height="1.6" fill="#000"/>
<rect x="662.30" y="1133.96" width="4.80" height="1.6" fill="#000"/>
<rect x="73.90" y="1157.81" width="4.80" height="1.6" fill="#000"/>
<rect x="662.30" y="1157.81" width="4.80" height="1.6" fill="#000"/>
<rect x="73.90" y="1181.65" width="4.80" height="1.6" fill="#000"/>
<rect x="662.30" y="1181.65" width="4.80" height="1.6" fill="#000"/>
<g fill="#111" stroke="#111" stroke-width="0.2">
<text x="73.90" y="714.00" font-size="19" text-anchor="middle">0</text>
<text x="139.81" y="714.00" font-size="19" text-anchor="middle">200</text>
<text x="205.72" y="714.00" font-size="19" text-anchor="middle">400</text>
<text x="271.63" y="714.00" font-size="19" text-anchor="middle">600</text>
<text x="337.54" y="714.00" font-size="19" text-anchor="middle">800</text>
<path transform="translate(382.32,714.00) scale(0.00928,-0.00928)" d="M763,0 L583,0 L583,1097 Q518,1038 412,979 Q306,920 222,890 L222,1056 Q373,1124 486,1221 Q599,1318 646,1409 L763,1409 Z"/>
<text x="392.89" y="714.00" font-size="19">000</text>
<path transform="translate(448.23,714.00) scale(0.00928,-0.00928)" d="M763,0 L583,0 L583,1097 Q518,1038 412,979 Q306,920 222,890 L222,1056 Q373,1124 486,1221 Q599,1318 646,1409 L763,1409 Z"/>
<text x="458.80" y="714.00" font-size="19">200</text>
<path transform="translate(514.14,714.00) scale(0.00928,-0.00928)" d="M763,0 L583,0 L583,1097 Q518,1038 412,979 Q306,920 222,890 L222,1056 Q373,1124 486,1221 Q599,1318 646,1409 L763,1409 Z"/>
<text x="524.71" y="714.00" font-size="19">400</text>
<path transform="translate(580.06,714.00) scale(0.00928,-0.00928)" d="M763,0 L583,0 L583,1097 Q518,1038 412,979 Q306,920 222,890 L222,1056 Q373,1124 486,1221 Q599,1318 646,1409 L763,1409 Z"/>
<text x="590.62" y="714.00" font-size="19">600</text>
<path transform="translate(645.97,714.00) scale(0.00928,-0.00928)" d="M763,0 L583,0 L583,1097 Q518,1038 412,979 Q306,920 222,890 L222,1056 Q373,1124 486,1221 Q599,1318 646,1409 L763,1409 Z"/>
<text x="656.53" y="714.00" font-size="19">800</text>
<text x="73.90" y="1232.00" font-size="19" text-anchor="middle">0</text>
<text x="148.05" y="1232.00" font-size="19" text-anchor="middle">2</text>
<text x="222.20" y="1232.00" font-size="19" text-anchor="middle">4</text>
<text x="296.35" y="1232.00" font-size="19" text-anchor="middle">6</text>
<text x="370.50" y="1232.00" font-size="19" text-anchor="middle">8</text>
<path transform="translate(434.08,1232.00) scale(0.00928,-0.00928)" d="M763,0 L583,0 L583,1097 Q518,1038 412,979 Q306,920 222,890 L222,1056 Q373,1124 486,1221 Q599,1318 646,1409 L763,1409 Z"/>
<text x="444.65" y="1232.00" font-size="19">0</text>
<path transform="translate(508.23,1232.00) scale(0.00928,-0.00928)" d="M763,0 L583,0 L583,1097 Q518,1038 412,979 Q306,920 222,890 L222,1056 Q373,1124 486,1221 Q599,1318 646,1409 L763,1409 Z"/>
<text x="518.80" y="1232.00" font-size="19">2</text>
<path transform="translate(582.38,1232.00) scale(0.00928,-0.00928)" d="M763,0 L583,0 L583,1097 Q518,1038 412,979 Q306,920 222,890 L222,1056 Q373,1124 486,1221 Q599,1318 646,1409 L763,1409 Z"/>
<text x="592.95" y="1232.00" font-size="19">4</text>
<path transform="translate(656.53,1232.00) scale(0.00928,-0.00928)" d="M763,0 L583,0 L583,1097 Q518,1038 412,979 Q306,920 222,890 L222,1056 Q373,1124 486,1221 Q599,1318 646,1409 L763,1409 Z"/>
<text x="667.10" y="1232.00" font-size="19">6</text>
<text x="62.80" y="735.00" font-size="19" text-anchor="end">42</text>
<text x="41.67" y="973.45" font-size="19">4</text>
<path transform="translate(52.23,973.45) scale(0.00928,-0.00928)" d="M763,0 L583,0 L583,1097 Q518,1038 412,979 Q306,920 222,890 L222,1056 Q373,1124 486,1221 Q599,1318 646,1409 L763,1409 Z"/>
<text x="62.80" y="1211.90" font-size="19" text-anchor="end">40</text>
<text x="320.44" y="681.30" font-size="21.5" textLength="99.74" lengthAdjust="spacingAndGlyphs">Cycle (#)</text>
<text x="306.32" y="1270.00" font-size="23" textLength="130.17" lengthAdjust="spacingAndGlyphs">Time (days)</text>
<text x="4.05" y="709.40" font-size="21.5" textLength="21.94" lengthAdjust="spacingAndGlyphs">b)</text>
<text x="526.77" y="780.20" font-size="20" textLength="100.41" lengthAdjust="spacingAndGlyphs">Reduction</text>
<text x="527.48" y="808.00" font-size="20" textLength="94.29" lengthAdjust="spacingAndGlyphs">Oxidation</text>
<text transform="translate(30.80,1036.26) rotate(-90)" x="0" y="0" font-size="23.5" textLength="138.14" lengthAdjust="spacingAndGlyphs">Capacity (C)</text>
</g>
<rect x="467.3" y="757.3" width="1.4" height="59.4" fill="#333"/>
<rect x="467.3" y="815.3" width="163.2" height="1.5" fill="#333"/>
<rect x="492.5" y="770.0" width="5.6" height="5.2" fill="#474848"/>
<circle cx="495.3" cy="800.5" r="3.1" fill="#ee3d40"/>
</svg>
</body></html>
